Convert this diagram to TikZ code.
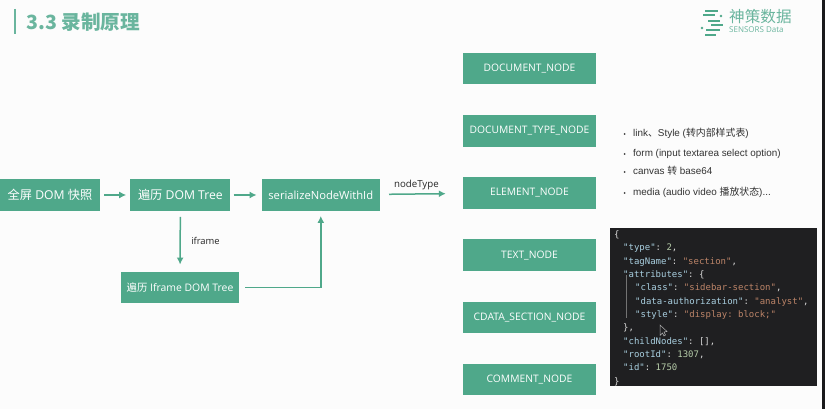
\documentclass[tikz,border=0pt]{standalone}
\usepackage{fontspec}
\setmainfont{Open Sans}
\setmonofont{DejaVu Sans Mono}
\newfontfamily\cjk{Noto Sans CJK SC}
\newfontfamily\arialfont{Liberation Sans}
\usetikzlibrary{positioning,arrows.meta}

\definecolor{boxgreen}{HTML}{4FA88A}
\definecolor{titlegreen}{HTML}{6AB59E}
\definecolor{panel}{HTML}{1F1F21}
\definecolor{keyblue}{HTML}{A9CFE0}
\definecolor{strbrown}{HTML}{BC8468}
\definecolor{numgreen}{HTML}{B5CBA8}

\newcommand{\ky}[1]{\textcolor{keyblue}{"#1"}}
\newcommand{\st}[1]{\textcolor{strbrown}{"#1"}}
\newcommand{\nm}[1]{\textcolor{numgreen}{#1}}

\tikzset{
  greenbox/.style={rectangle,fill=boxgreen,text=white,inner sep=0pt,minimum height=31.5pt,font=\fontsize{10.3}{12}\selectfont},
  flowbox/.style={greenbox,minimum width=100pt,font=\fontsize{12.2}{14}\selectfont},
  widebox/.style={greenbox,minimum width=118pt},
  typebox/.style={greenbox,minimum width=133pt},
  flow/.style={-{Latex[length=7pt,width=7pt]},boxgreen,line width=1.5pt},
  codeline/.style={anchor=base west,inner sep=0pt,text=white!85!black,font=\ttfamily\fontsize{9}{10}\selectfont},
  bulletline/.style={anchor=base west,inner sep=0pt,text=black!80,font=\arialfont\fontsize{9.9}{11}\selectfont},
  logobar/.style={boxgreen,line width=2.6pt}
}

\begin{document}
\begin{tikzpicture}[x=1pt,y=1pt]

\useasboundingbox[fill=black!1] (0,0) rectangle (825,409);
\fill[panel!80!black] (822,0) rectangle (825,409);

% title
\draw[titlegreen,line width=2.2pt] (15,400) -- (15,375);
\node[anchor=west,inner sep=0pt,text=titlegreen,font=\cjk\bfseries\fontsize{19.6}{22}\selectfont] (title) at (26,387) {3.3 录制原理};

% logo
\draw[logobar] (705,398) -- (718,398) (703,394) -- (715,394) (708,388) -- (720,388)
(711,384) -- (723,384) (706,379) -- (720,379) (705,374) -- (716,374);
\fill[boxgreen] (721,393) circle (1.3pt) (702,381) circle (1.3pt);
\node[anchor=west,inner sep=0pt,text=titlegreen,font=\cjk\fontsize{15.6}{18}\selectfont] (logoname) at (729,392) {神策数据};
\node[anchor=west,inner sep=0pt,text=titlegreen,font=\fontsize{8}{9}\selectfont] (logosub) at (729,379.5) {SENSORS Data};

% flow
\node[flowbox] (full) at (50,214) {{\cjk 全屏} DOM {\cjk 快照}};
\node[flowbox] (tree) [right=30pt of full] {{\cjk 遍历} DOM Tree};
\node[widebox,font=\fontsize{11.2}{13}\selectfont] (serial) [right=31pt of tree] {serializeNodeWithId};
\node[widebox,font=\fontsize{10.4}{12}\selectfont] (iframetree) at (180,121.5) {{\cjk 遍历} Iframe DOM Tree};

% node types
\node[typebox] (doc) at (529.5,340.5) {DOCUMENT\_NODE};
\node[typebox] (doctype) [below=30.5pt of doc] {DOCUMENT\_TYPE\_NODE};
\node[typebox] (element) [below=30pt of doctype] {ELEMENT\_NODE};
\node[typebox] (text) [below=30.5pt of element] {TEXT\_NODE};
\node[typebox] (cdata) [below=30.5pt of text] {CDATA\_SECTION\_NODE};
\node[typebox] (comment) [below=30pt of cdata] {COMMENT\_NODE};

\path[flow]
(full) edge[shorten <=4pt,shorten >=4pt] (tree)
(tree) edge[shorten <=3pt,shorten >=5pt] (serial)
(tree) edge[shorten <=6pt,shorten >=7pt] node[right=7pt,text=black!85,font=\fontsize{9.4}{11}\selectfont] (iframelabel) {iframe} (iframetree)
(serial) edge[shorten <=9pt,shorten >=17pt] node[above=0pt,xshift=-5pt,text=black!85,font=\fontsize{9.7}{12}\selectfont] (typelabel) {nodeType} (element);
\draw[flow,shorten <=6pt,shorten >=5pt] (iframetree) -| (serial);

% bullets
\foreach \y/\txt [count=\i] in {272/{link{\cjk 、}Style ({\cjk 转内部样式表})},
  252/{form (input textarea select option)},
  234/{canvas {\cjk 转} base64},
  213/{media (audio video {\cjk 播放状态})...}}
{
  \node[bulletline] (bullet\i) at (633,\y) {\txt};
  \fill[black!75] (624.5,\y+3) circle (1pt);
}

% json panel
\fill[panel] (610,23) rectangle (817,181);
\draw[white!45!black,line width=0.4pt] (626,134) -- (626,91);
\node[codeline] (json1) at (614,171.5) {\{};
\node[codeline] (json2) at (623,158) {\ky{type}: \nm{2},};
\node[codeline] (json3) at (623,144.5) {\ky{tagName}: \st{section},};
\node[codeline] (json4) at (623,131) {\ky{attributes}: \{};
\node[codeline] (json5) at (635,118) {\ky{class}: \st{sidebar-section},};
\node[codeline] (json6) at (635,104.5) {\ky{data-authorization}: \st{analyst},};
\node[codeline] (json7) at (635,91) {\ky{style}: \st{display: block;}};
\node[codeline] (json8) at (623,78) {\},};
\node[codeline] (json9) at (623,64.5) {\ky{childNodes}: [],};
\node[codeline] (json10) at (623,51) {\ky{rootId}: \nm{1307},};
\node[codeline] (json11) at (623,38) {\ky{id}: \nm{1750}};
\node[codeline] (json12) at (614,24.5) {\}};

% cursor
\draw[white!70!black,line width=0.5pt,fill=panel] (660,84) -- (660,73.5) -- (662.5,76) -- (664,73) -- (665.5,74) -- (664,77) -- (667,77.5) -- cycle;

\end{tikzpicture}
\end{document}
